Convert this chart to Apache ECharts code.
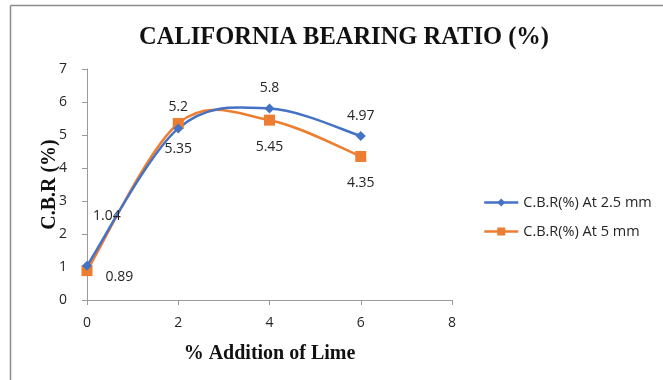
<!DOCTYPE html>
<html>
<head>
<meta charset="utf-8">
<script src="https://cdn.jsdelivr.net/npm/echarts@6/dist/echarts.min.js"></script>
<style>
  html, body { margin: 0; padding: 0; background: #fff; }
  #chart { width: 663px; height: 380px; }
</style>
</head>
<body>
<div id="chart"></div>
<script>
// Lime content (%) and CBR values at two penetrations
const limeAddition = [0, 2, 4, 6];
const cbrAt25mm = [1.04, 5.2, 5.8, 4.97];
const cbrAt5mm = [0.89, 5.35, 5.45, 4.35];
const seriesNames = ['C.B.R(%) At 2.5 mm', 'C.B.R(%) At 5 mm'];
const seriesColors = ['#4472C4', '#ED7D31'];

// where each value label sits relative to its point
const labelPlace25 = [
  { position: 'right', offset: [-4, -50] },
  { position: 'top', offset: [0, -4] },
  { position: 'top', offset: [0, -4] },
  { position: 'top', offset: [0, -3] }
];
const labelPlace5 = [
  { position: 'right', offset: [8, 6] },
  { position: 'bottom', offset: [0, 8] },
  { position: 'bottom', offset: [0, 9] },
  { position: 'bottom', offset: [0, 9] }
];

const labelFont = { fontFamily: 'Open Sans', fontSize: 14, color: '#262626' };

function buildData(values, places) {
  return values.map((v, i) => ({
    value: [limeAddition[i], v],
    label: Object.assign({ show: true, formatter: String(v) }, labelFont, places[i])
  }));
}

// Cardinal (Catmull-Rom style) spline through the pixel positions of the points
function smoothPath(pts) {
  const t = 1 / 6;
  let d = 'M' + pts[0][0] + ',' + pts[0][1];
  for (let i = 0; i < pts.length - 1; i++) {
    const p0 = pts[Math.max(i - 1, 0)];
    const p1 = pts[i];
    const p2 = pts[i + 1];
    const p3 = pts[Math.min(i + 2, pts.length - 1)];
    const c1 = [p1[0] + (p2[0] - p0[0]) * t, p1[1] + (p2[1] - p0[1]) * t];
    const c2 = [p2[0] - (p3[0] - p1[0]) * t, p2[1] - (p3[1] - p1[1]) * t];
    d += ' C' + c1[0] + ',' + c1[1] + ' ' + c2[0] + ',' + c2[1] + ' ' + p2[0] + ',' + p2[1];
  }
  return d;
}

function curveSeries(name, values, color) {
  return {
    name: name,
    type: 'custom',
    coordinateSystem: 'cartesian2d',
    data: values.map((v, i) => [limeAddition[i], v]),
    encode: { x: 0, y: 1 },
    z: 1,
    silent: true,
    renderItem: function (params, api) {
      if (params.dataIndex !== 0) return null;
      const pts = values.map((v, i) => api.coord([limeAddition[i], v]));
      return {
        type: 'path',
        shape: { pathData: smoothPath(pts) },
        style: { fill: null, stroke: color, lineWidth: 2.5 }
      };
    }
  };
}

function markerSeries(name, values, places, color, symbol, size, z) {
  return {
    name: name,
    type: 'line',
    symbol: symbol,
    symbolSize: size,
    itemStyle: { color: color },
    lineStyle: { color: color, width: 2.5, opacity: 0 },
    data: buildData(values, places),
    z: z
  };
}

const chart = echarts.init(document.getElementById('chart'), null, { renderer: 'canvas' });
chart.setOption({
  animation: false,
  backgroundColor: '#ffffff',
  graphic: [
    { type: 'line', shape: { x1: 10.5, y1: 5.5, x2: 663, y2: 5.5 },
      style: { stroke: '#8c8c8c', lineWidth: 1.5 }, silent: true },
    { type: 'line', shape: { x1: 10.5, y1: 5.5, x2: 10.5, y2: 380 },
      style: { stroke: '#8c8c8c', lineWidth: 1.5 }, silent: true }
  ],
  title: {
    text: 'CALIFORNIA BEARING RATIO (%)',
    left: 339,
    textAlign: 'center',
    top: 20,
    textStyle: { fontFamily: 'Liberation Serif', fontWeight: 'bold', fontSize: 24.5, color: '#111' }
  },
  grid: { left: 87, right: 211, top: 69, bottom: 80 },
  legend: {
    orient: 'vertical',
    left: 483,
    top: 195,
    padding: 0,
    itemGap: 14,
    itemWidth: 34,
    itemHeight: 10,
    textStyle: { fontFamily: 'Open Sans', fontSize: 14.5, color: '#262626' },
    lineStyle: { opacity: 1, width: 2.5 },
    data: seriesNames
  },
  xAxis: {
    type: 'value',
    min: 0, max: 8, interval: 2,
    name: '% Addition of Lime',
    nameLocation: 'middle',
    nameGap: 44,
    nameTextStyle: { fontFamily: 'Liberation Serif', fontWeight: 'bold', fontSize: 20, color: '#111' },
    axisLine: { show: true, lineStyle: { color: '#9a9a9a', width: 1 } },
    axisTick: { show: true, length: 5, lineStyle: { color: '#9a9a9a' } },
    axisLabel: { fontFamily: 'Open Sans', fontSize: 14, color: '#262626', margin: 16 },
    splitLine: { show: false }
  },
  yAxis: {
    type: 'value',
    min: 0, max: 7, interval: 1,
    name: 'C.B.R (%)',
    nameLocation: 'middle',
    nameGap: 27,
    nameMoveOverlap: false,
    nameRotate: 90,
    nameTextStyle: { fontFamily: 'Liberation Serif', fontWeight: 'bold', fontSize: 20, color: '#111' },
    axisLine: { show: true, lineStyle: { color: '#9a9a9a', width: 1 } },
    axisTick: { show: true, length: 5, lineStyle: { color: '#9a9a9a' } },
    axisLabel: { fontFamily: 'Open Sans', fontSize: 14, color: '#262626', margin: 20 },
    splitLine: { show: false }
  },
  series: [
    markerSeries(seriesNames[0], cbrAt25mm, labelPlace25, seriesColors[0], 'diamond', 10, 4),
    markerSeries(seriesNames[1], cbrAt5mm, labelPlace5, seriesColors[1], 'rect', 11, 3),
    curveSeries(seriesNames[1], cbrAt5mm, seriesColors[1]),
    curveSeries(seriesNames[0], cbrAt25mm, seriesColors[0])
  ]
});
</script>
</body>
</html>
